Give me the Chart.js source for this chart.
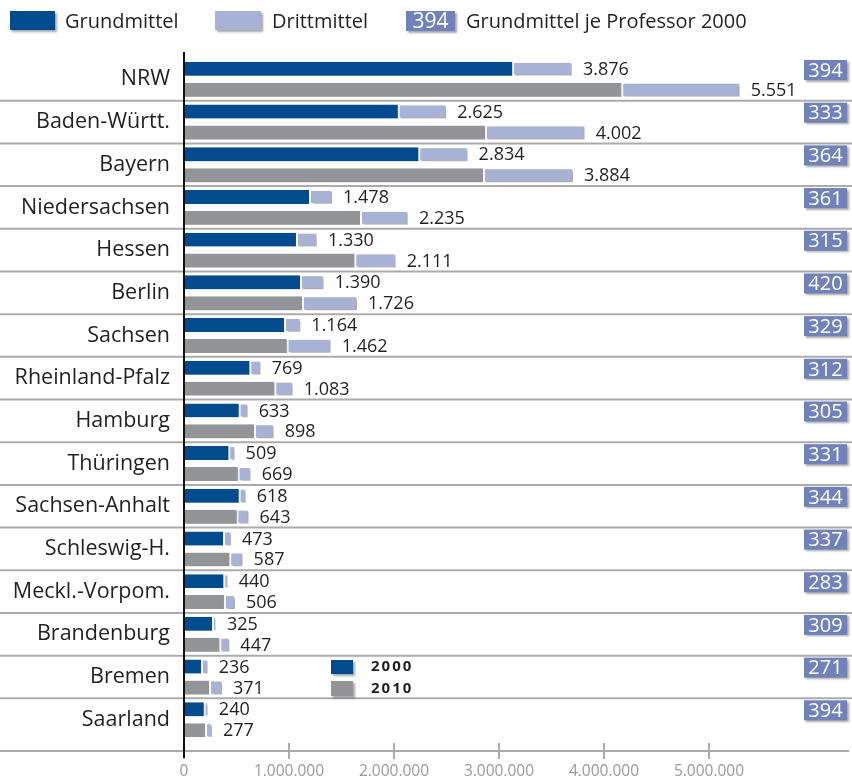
<!DOCTYPE html>
<html>
<head>
<meta charset="utf-8">
<script src="https://cdn.jsdelivr.net/npm/chart.js@4/dist/chart.umd.min.js"></script>
<style>
  html, body { margin: 0; padding: 0; background: #ffffff; }
  #wrap { position: relative; width: 852px; height: 780px; }
</style>
</head>
<body>
<div id="wrap"><canvas id="c" width="852" height="780"></canvas></div>
<script>
// ---- data ----
const categories = ["NRW", "Baden-Württ.", "Bayern", "Niedersachsen", "Hessen", "Berlin", "Sachsen",
  "Rheinland-Pfalz", "Hamburg", "Thüringen", "Sachsen-Anhalt", "Schleswig-H.", "Meckl.-Vorpom.",
  "Brandenburg", "Bremen", "Saarland"];
const grund2000 = [3135000, 2045000, 2241000, 1200000, 1076000, 1114000, 962000, 632000, 530000, 432000, 530000, 381000, 384000, 276000, 171000, 197000];
const dritt2000 = [560000, 452000, 460000, 210000, 190000, 216000, 146000, 98000, 76000, 50000, 57000, 67000, 32000, 29000, 54000, 30000];
const grund2010 = [4174000, 2876000, 2857000, 1686000, 1632000, 1133000, 987000, 870000, 676000, 521000, 510000, 441000, 390000, 346000, 248000, 210000];
const dritt2010 = [1118000, 940000, 848000, 447000, 384000, 515000, 410000, 165000, 178000, 114000, 105000, 117000, 96000, 86000, 114000, 57000];
const total2000Labels = [3876, 2625, 2834, 1478, 1330, 1390, 1164, 769, 633, 509, 618, 473, 440, 325, 236, 240];
const total2010Labels = [5551, 4002, 3884, 2235, 2111, 1726, 1462, 1083, 898, 669, 643, 587, 506, 447, 371, 277];
const perProfessor2000 = [394, 333, 364, 361, 315, 420, 329, 312, 305, 331, 344, 337, 283, 309, 271, 394];
const legendLabels = ["Grundmittel", "Drittmittel", "Grundmittel je Professor 2000"];
const yearLabels = ["2000", "2010"];
const xTickValues = [0, 1000000, 2000000, 3000000, 4000000, 5000000];

// ---- styles ----
const DARK = "#014b8e";
const GRAY = "#939497";
const LIGHT = "#a8b2d5";
const BOX = "#7181ba";
const TEXT = "#231f20";
const LINE = "#ababab";
const FONT = "'Open Sans', 'Noto Sans', sans-serif";

function fmt(n) {
  return String(n).replace(/\B(?=(\d{3})+(?!\d))/g, ".");
}

function shadowOn(ctx) {
  ctx.shadowColor = "rgba(0,0,0,0.35)";
  ctx.shadowOffsetX = 1.5;
  ctx.shadowOffsetY = 1.5;
  ctx.shadowBlur = 2;
}

const decor = {
  id: "decor",
  beforeDatasetsDraw(chart) {
    const ctx = chart.ctx;
    const y = chart.scales.y;
    const x = chart.scales.x;
    const ca = chart.chartArea;
    ctx.save();
    ctx.strokeStyle = LINE;
    ctx.lineWidth = 2;
    for (let i = 0; i < categories.length - 1; i++) {
      const yy = (y.getPixelForTick(i) + y.getPixelForTick(i + 1)) / 2;
      ctx.beginPath();
      ctx.moveTo(0, yy);
      ctx.lineTo(chart.width, yy);
      ctx.stroke();
    }
    const axisY = ca.bottom + 10;
    ctx.beginPath();
    ctx.moveTo(0, axisY);
    ctx.lineTo(ca.right, axisY);
    ctx.stroke();
    x.ticks.forEach(t => {
      const px = x.getPixelForValue(t.value);
      ctx.beginPath();
      ctx.moveTo(px, axisY - 8);
      ctx.lineTo(px, axisY + 8);
      ctx.stroke();
    });
    ctx.restore();
  },
  beforeDatasetDraw(chart, args) {
    const ctx = chart.ctx;
    ctx.save();
    if (args.index % 2 === 1) {
      shadowOn(ctx);
    } else {
      ctx.shadowColor = "rgba(0,0,0,0.3)";
      ctx.shadowOffsetX = 0;
      ctx.shadowOffsetY = 1.5;
      ctx.shadowBlur = 1;
    }
  },
  afterDatasetDraw(chart) {
    chart.ctx.restore();
  },
  afterDatasetsDraw(chart) {
    const ctx = chart.ctx;
    const ca = chart.chartArea;
    const y = chart.scales.y;
    ctx.save();
    ctx.strokeStyle = "#111";
    ctx.lineWidth = 2;
    ctx.beginPath();
    ctx.moveTo(ca.left, ca.top - 6);
    ctx.lineTo(ca.left, ca.bottom + 17);
    ctx.stroke();

    ctx.fillStyle = TEXT;
    ctx.font = "18px " + FONT;
    ctx.textAlign = "left";
    ctx.textBaseline = "middle";
    const m2000 = chart.getDatasetMeta(1);
    const m2010 = chart.getDatasetMeta(3);
    categories.forEach((c, i) => {
      const b1 = m2000.data[i];
      const b2 = m2010.data[i];
      ctx.fillText(fmt(total2000Labels[i]), b1.x + 11, b1.y + 1);
      ctx.fillText(fmt(total2010Labels[i]), b2.x + 11, b2.y + 1);
    });

    const band = y.getPixelForTick(1) - y.getPixelForTick(0);
    ctx.font = "20px " + FONT;
    ctx.textAlign = "center";
    categories.forEach((c, i) => {
      const top = y.getPixelForTick(i) - band / 2 + 2;
      const bx = ca.right - 45;
      ctx.save();
      shadowOn(ctx);
      ctx.fillStyle = BOX;
      ctx.fillRect(bx, top, 43, 20);
      ctx.restore();
      ctx.fillStyle = "#ffffff";
      ctx.fillText(String(perProfessor2000[i]), bx + 21.5, top + 11);
    });

    ctx.textAlign = "left";
    ctx.textBaseline = "middle";
    const drawBox = (color, bx, by, w, h) => {
      ctx.save();
      shadowOn(ctx);
      ctx.fillStyle = color;
      ctx.fillRect(bx, by, w, h);
      ctx.restore();
    };
    drawBox(DARK, 10, 11, 45, 19);
    drawBox(LIGHT, 215, 11, 46, 19);
    drawBox(BOX, 406, 11, 49, 20);
    ctx.font = "20px " + FONT;
    ctx.fillStyle = TEXT;
    ctx.fillText(legendLabels[0], 65, 22);
    ctx.fillText(legendLabels[1], 272, 22);
    ctx.fillText(legendLabels[2], 466, 22);
    ctx.fillStyle = "#ffffff";
    ctx.font = "21px " + FONT;
    ctx.textAlign = "center";
    ctx.fillText(String(perProfessor2000[0]), 430.5, 22);

    drawBox(DARK, 331, 660, 22, 14);
    drawBox(GRAY, 331, 681, 22, 15);
    ctx.fillStyle = TEXT;
    ctx.textAlign = "left";
    ctx.font = "bold 15px " + FONT;
    try { ctx.letterSpacing = "2px"; } catch (e) {}
    ctx.fillText(yearLabels[0], 371, 667);
    ctx.fillText(yearLabels[1], 371, 689);
    ctx.restore();
  }
};

const darkBorder = { top: 0, bottom: 0, left: 0, right: 1 };

new Chart(document.getElementById("c"), {
  type: "bar",
  data: {
    labels: categories,
    datasets: [
      { label: "Grundmittel 2000", data: grund2000, stack: "2000", backgroundColor: DARK, borderColor: "#ffffff", borderWidth: darkBorder, borderSkipped: false },
      { label: "Drittmittel 2000", data: dritt2000, stack: "2000", backgroundColor: LIGHT, borderColor: "#ffffff", borderWidth: 1, borderSkipped: false },
      { label: "Grundmittel 2010", data: grund2010, stack: "2010", backgroundColor: GRAY, borderColor: "#ffffff", borderWidth: darkBorder, borderSkipped: false },
      { label: "Drittmittel 2010", data: dritt2010, stack: "2010", backgroundColor: LIGHT, borderColor: "#ffffff", borderWidth: 1, borderSkipped: false }
    ]
  },
  options: {
    indexAxis: "y",
    responsive: false,
    animation: false,
    devicePixelRatio: 1,
    layout: { padding: { top: 58, right: 3, left: 0, bottom: 0 } },
    datasets: { bar: { categoryPercentage: 0.98, barPercentage: 0.665 } },
    plugins: { legend: { display: false }, tooltip: { enabled: false } },
    scales: {
      x: {
        stacked: true,
        min: 0,
        max: 6333333,
        grid: { display: false, drawTicks: false },
        border: { display: false },
        afterBuildTicks(s) { s.ticks = xTickValues.map(v => ({ value: v })); },
        afterFit(s) { s.height = 39; s.paddingRight = 0; s.paddingLeft = 0; },
        ticks: {
          padding: 21,
          color: "#9a9a9a",
          font: { family: "'Open Sans', 'Noto Sans', sans-serif", size: 15.5 },
          callback: v => fmt(v)
        }
      },
      y: {
        stacked: true,
        grid: { display: false, drawTicks: false },
        border: { display: false },
        afterFit(s) { s.width = 184; },
        ticks: {
          padding: 14,
          color: TEXT,
          font: { family: "'Open Sans', 'Noto Sans', sans-serif", size: 21.5 }
        }
      }
    }
  },
  plugins: [decor]
});
</script>
</body>
</html>
